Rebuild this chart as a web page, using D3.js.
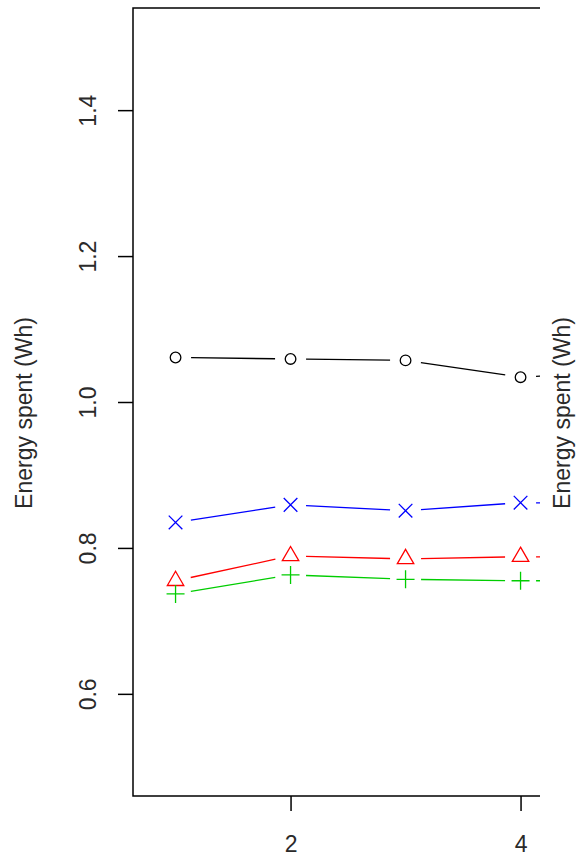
<!DOCTYPE html>
<html>
<head>
<meta charset="utf-8">
<script src="https://cdn.jsdelivr.net/npm/d3@7"></script>
<style>
  body { margin: 0; background: #fff; }
  text { font-family: "Liberation Sans", Arial, sans-serif; }
</style>
</head>
<body>
<div id="chart"></div>
<script>
// energy per run, four settings (R plot, type = "b")
const runs = [1, 2, 3, 4, 5];
const circleSeries = [1.061, 1.059, 1.057, 1.034, 1.042];
const crossSeries = [0.835, 0.859, 0.851, 0.862, 0.861];
const triangleSeries = [0.755, 0.789, 0.785, 0.788, 0.787];
const plusSeries = [0.737, 0.763, 0.757, 0.755, 0.755];
const yTicks = [0.6, 0.8, 1.0, 1.2, 1.4];
const xTicks = [2, 4, 6, 8, 10];
const yLabel = "Energy spent (Wh)";

const width = 577, height = 857;
const plotLeft = 133, plotTop = 8, plotBottom = 796, cut = 540;

const svg = d3.select("#chart").append("svg")
  .attr("width", width)
  .attr("height", height);

const x = d3.scaleLinear().domain([0.63, 10.37]).range([plotLeft, plotLeft + 9.74 * 115]);
const y = d3.scaleLinear().domain([0.46, 1.54]).range([plotBottom, plotTop]);

svg.append("defs").append("clipPath").attr("id", "plot")
  .append("rect")
  .attr("x", plotLeft).attr("y", 0)
  .attr("width", cut - plotLeft).attr("height", height);

const series = [
  {values: circleSeries, color: "#000000", pch: "circle"},
  {values: crossSeries, color: "#0000ff", pch: "cross"},
  {values: triangleSeries, color: "#ff0000", pch: "triangle"},
  {values: plusSeries, color: "#00cd00", pch: "plus"}
];

const plot = svg.append("g").attr("clip-path", "url(#plot)");
const gap = 15.5;

series.forEach(s => {
  const pts = runs.map((r, i) => [x(r), y(s.values[i])]);
  const g = plot.append("g").attr("stroke", s.color).attr("fill", "none").attr("stroke-width", 1.3);

  // line pieces with gaps round the points
  d3.pairs(pts).forEach(([a, b]) => {
    const dx = b[0] - a[0], dy = b[1] - a[1];
    const len = Math.hypot(dx, dy);
    const ux = dx / len, uy = dy / len;
    g.append("line")
      .attr("x1", a[0] + ux * gap).attr("y1", a[1] + uy * gap)
      .attr("x2", b[0] - ux * gap).attr("y2", b[1] - uy * gap);
  });

  pts.forEach(([px, py]) => {
    if (s.pch === "circle") {
      g.append("circle").attr("cx", px).attr("cy", py).attr("r", 5.3);
    } else if (s.pch === "cross") {
      const h = 6.8;
      g.append("path").attr("d", `M${px - h},${py - h}L${px + h},${py + h}M${px - h},${py + h}L${px + h},${py - h}`);
    } else if (s.pch === "triangle") {
      const r = 9.5;
      g.append("path").attr("d", `M${px},${py - r}L${px + r * 0.866},${py + r / 2}L${px - r * 0.866},${py + r / 2}Z`);
    } else {
      const h = 9;
      g.append("path").attr("d", `M${px - h},${py}L${px + h},${py}M${px},${py - h}L${px},${py + h}`);
    }
  });
});

// box: left, top and bottom sides (the right side is cut off)
svg.append("path")
  .attr("d", `M${cut},${plotTop}H${plotLeft}V${plotBottom}H${cut}`)
  .attr("fill", "none")
  .attr("stroke", "#000")
  .attr("stroke-width", 1.5);

const yAxis = svg.append("g")
  .attr("transform", `translate(${plotLeft},0)`)
  .call(d3.axisLeft(y).tickValues(yTicks).tickSize(15).tickFormat(d3.format(".1f")));
yAxis.select(".domain").remove();
yAxis.selectAll(".tick line").attr("stroke", "#000").attr("stroke-width", 1.5);
yAxis.selectAll(".tick text")
  .attr("font-size", 23)
  .attr("fill", "#2a2a2a")
  .attr("x", null).attr("dy", null)
  .attr("text-anchor", "middle")
  .attr("transform", "translate(-37,0) rotate(-90)");

const xAxis = svg.append("g")
  .attr("transform", `translate(0,${plotBottom})`)
  .call(d3.axisBottom(x).tickValues(xTicks.filter(t => x(t) < cut)).tickSize(15));
xAxis.select(".domain").remove();
xAxis.selectAll(".tick line").attr("stroke", "#000").attr("stroke-width", 1.5);
xAxis.selectAll(".tick text")
  .attr("font-size", 23)
  .attr("fill", "#2a2a2a")
  .attr("y", 56).attr("dy", null);

svg.append("text")
  .attr("transform", `translate(32,413) rotate(-90)`)
  .attr("text-anchor", "middle")
  .attr("font-size", 23)
  .attr("fill", "#2a2a2a")
  .text(yLabel);

svg.append("text")
  .attr("transform", `translate(570,413) rotate(-90)`)
  .attr("text-anchor", "middle")
  .attr("font-size", 23)
  .attr("fill", "#2a2a2a")
  .text(yLabel);
</script>
</body>
</html>
